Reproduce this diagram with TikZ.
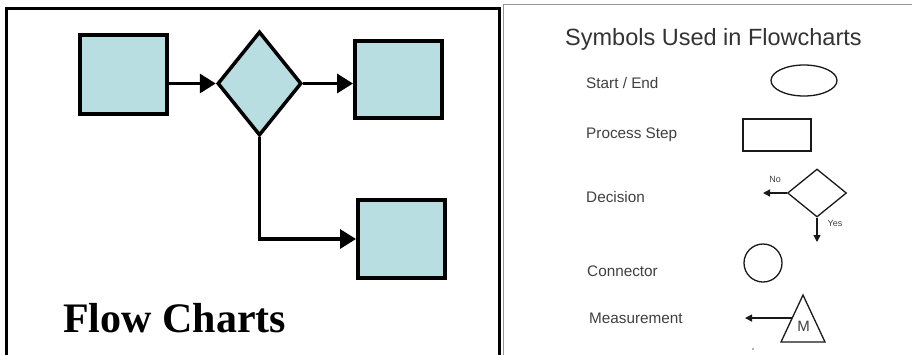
\documentclass[tikz,border=0pt]{standalone}
\usepackage{fontspec}
\setmainfont{Liberation Serif}
\setsansfont{Liberation Sans}
\usetikzlibrary{shapes.geometric,arrows.meta,calc}
\definecolor{boxfill}{RGB}{185,222,226}
\definecolor{symtext}{RGB}{64,64,64}
\definecolor{panelgrey}{RGB}{150,150,150}
\tikzset{
  flowbox/.style={draw=black,line width=4pt,fill=boxfill,inner sep=0pt,minimum width=87pt},
  flowdia/.style={diamond,draw=black,line width=3.5pt,fill=boxfill,inner sep=0pt,minimum width=84pt,minimum height=104pt},
  flowarrow/.style={line width=3.4pt,-{Triangle[length=16pt,width=19pt]}},
  symline/.style={draw=black!90,line width=1.3pt},
  symarrow/.style={line width=1.3pt,draw=black!90,-{Triangle[length=7pt,width=7pt]}},
  symlabel/.style={font=\sffamily\fontsize{15.3}{16}\selectfont,text=symtext,anchor=base west,inner sep=0pt},
  tinylabel/.style={font=\sffamily\fontsize{9}{10}\selectfont,text=symtext,inner sep=0pt}
}
\begin{document}
\begin{tikzpicture}[x=1pt,y=-1pt]
\useasboundingbox[fill=white] (0,0) rectangle (912,354);

% left slide frame
\draw[line width=3pt] (6.5,370) -- (6.5,8.5) -- (499,8.5) -- (499,370);

% flow chart
\node[flowbox,minimum height=79pt] (start) at (123.5,74.5) {};
\node[flowdia] (choice) at (259.5,83.5) {};
\node[flowbox,minimum height=77pt] (yesbox) at (398.5,79.5) {};
\node[flowbox,minimum height=78pt] (nobox) at (401.5,239) {};
\draw[flowarrow] (start.east |- choice.west) -- (choice.west);
\draw[flowarrow] (choice.east) -- (choice.east -| yesbox.west);
\draw[flowarrow] (choice.south) |- (nobox.west);

\node[font=\bfseries\fontsize{42}{44}\selectfont,anchor=base west,inner sep=0pt] (title) at (63,332) {Flow Charts};

% right slide frame
\draw[panelgrey,line width=1pt] (503.5,360) -- (503.5,4) -- (915,4);

\node[font=\sffamily\fontsize{23.5}{25}\selectfont,text=black!80,anchor=base west,inner sep=0pt] (symtitle) at (565,45.5) {Symbols Used in Flowcharts};

% legend labels
\node[symlabel] (lstart) at (586,88) {Start / End};
\node[symlabel] (lproc) at (586,138.5) {Process Step};
\node[symlabel] (ldec) at (586,202) {Decision};
\node[symlabel] (lconn) at (587,276) {Connector};
\node[symlabel] (lmeas) at (589,323) {Measurement};

% legend symbols
\node[ellipse,symline,minimum width=66pt,minimum height=31pt,inner sep=0pt] (sellipse) at (804,80.5) {};
\node[rectangle,symline,minimum width=68pt,minimum height=32pt,inner sep=0pt] (srect) at (777,135) {};

\node[diamond,symline,minimum width=59pt,minimum height=48pt,inner sep=0pt] (sdia) at (817,193) {};
\coordinate (noend) at (763,193);
\coordinate (yesend) at (817,242);
\draw[symarrow] (sdia.west) -- (noend);
\draw[symarrow] (sdia.south) -- (yesend);
\node[tinylabel] (lno) at (775,179) {No};
\node[tinylabel] (lyes) at (835,223) {Yes};

\node[circle,symline,minimum size=38pt,inner sep=0pt] (sconn) at (763,263) {};

\coordinate (mleft) at (781,342);
\coordinate (mtop) at (803,295);
\coordinate (mright) at (825,342);
\draw[symline,line join=miter] (mleft) -- (mtop) -- (mright) -- cycle;
\node[font=\sffamily\fontsize{15}{16}\selectfont,text=symtext,inner sep=0pt] (mlabel) at (803.5,326) {M};
\coordinate (mside) at ($(mleft)!0.51!(mtop)$);
\coordinate (mend) at (745,318);
\draw[symarrow] (mside) -- (mend |- mside);

\fill[black!60] (753,349) circle (0.9pt);
\end{tikzpicture}
\end{document}
